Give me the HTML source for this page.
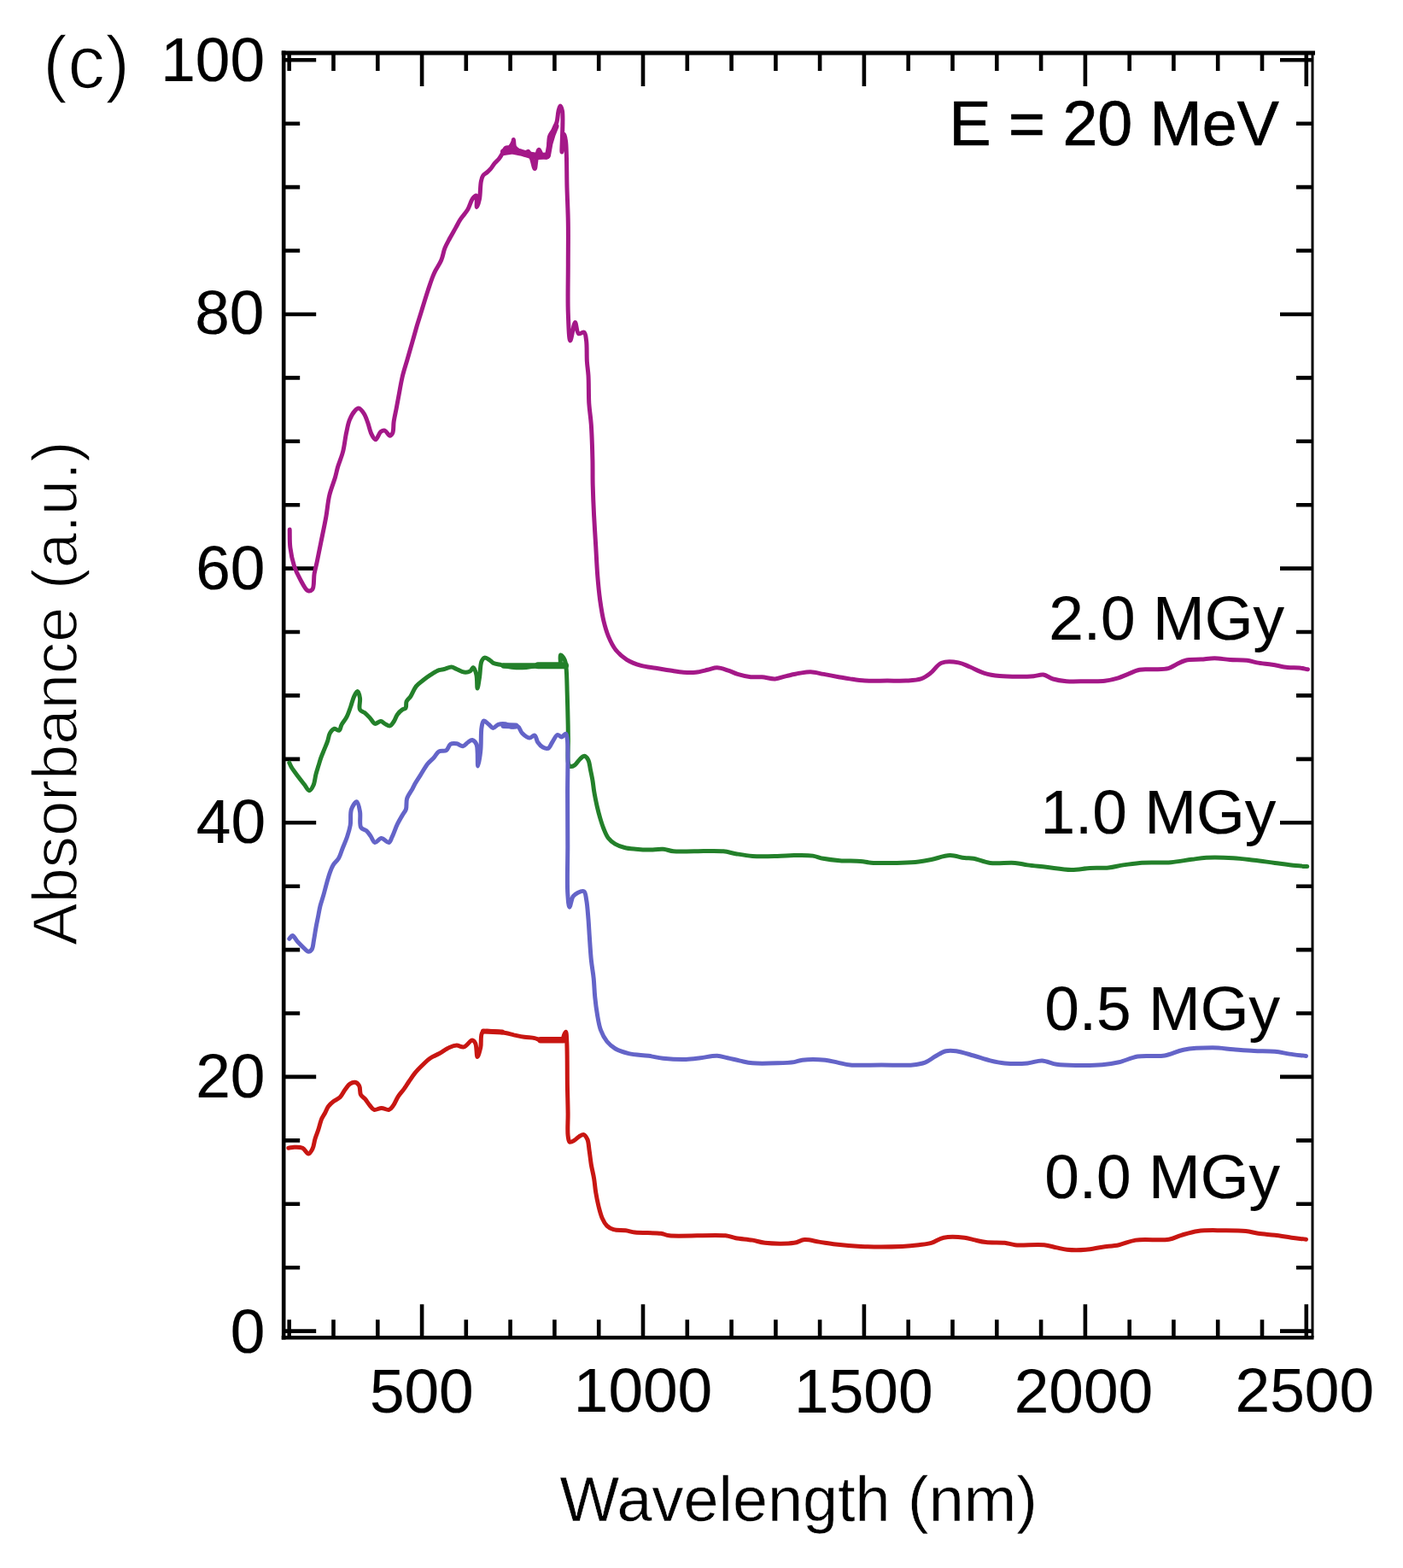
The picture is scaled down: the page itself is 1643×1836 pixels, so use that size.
<!DOCTYPE html>
<html><head><meta charset="utf-8"><style>html,body{margin:0;padding:0;background:#fff;overflow:hidden;}svg{display:block;}</style></head>
<body>
<svg width="1643" height="1836" viewBox="0 0 1643 1836">
<rect width="1643" height="1836" fill="#fff"/>
<line x1="332.2" y1="59.5" x2="332.2" y2="1568.4" stroke="#000" stroke-width="4.6"/>
<line x1="329.7" y1="62.0" x2="1540.0" y2="62.0" stroke="#000" stroke-width="5"/>
<line x1="329.7" y1="1566.2" x2="1538.5" y2="1566.2" stroke="#000" stroke-width="4.4"/>
<line x1="1537.0" y1="62.0" x2="1537.0" y2="1566.2" stroke="#000" stroke-width="3"/>
<path d="M338.7 1566.2V1545.2M338.7 62.0V83.0M390.5 1566.2V1545.2M390.5 62.0V83.0M442.3 1566.2V1545.2M442.3 62.0V83.0M494.1 1566.2V1527.2M494.1 62.0V101.0M545.8 1566.2V1545.2M545.8 62.0V83.0M597.6 1566.2V1545.2M597.6 62.0V83.0M649.4 1566.2V1545.2M649.4 62.0V83.0M701.2 1566.2V1545.2M701.2 62.0V83.0M753.0 1566.2V1527.2M753.0 62.0V101.0M804.8 1566.2V1545.2M804.8 62.0V83.0M856.6 1566.2V1545.2M856.6 62.0V83.0M908.4 1566.2V1545.2M908.4 62.0V83.0M960.1 1566.2V1545.2M960.1 62.0V83.0M1011.9 1566.2V1527.2M1011.9 62.0V101.0M1063.7 1566.2V1545.2M1063.7 62.0V83.0M1115.5 1566.2V1545.2M1115.5 62.0V83.0M1167.3 1566.2V1545.2M1167.3 62.0V83.0M1219.1 1566.2V1545.2M1219.1 62.0V83.0M1270.9 1566.2V1527.2M1270.9 62.0V101.0M1322.7 1566.2V1545.2M1322.7 62.0V83.0M1374.4 1566.2V1545.2M1374.4 62.0V83.0M1426.2 1566.2V1545.2M1426.2 62.0V83.0M1478.0 1566.2V1545.2M1478.0 62.0V83.0M1529.8 1566.2V1527.2M1529.8 62.0V101.0M332.2 1558.6H370.2M1537.0 1558.6H1499.0M332.2 1484.2H351.2M1537.0 1484.2H1518.0M332.2 1409.8H351.2M1537.0 1409.8H1518.0M332.2 1335.4H351.2M1537.0 1335.4H1518.0M332.2 1260.9H370.2M1537.0 1260.9H1499.0M332.2 1186.5H351.2M1537.0 1186.5H1518.0M332.2 1112.1H351.2M1537.0 1112.1H1518.0M332.2 1037.7H351.2M1537.0 1037.7H1518.0M332.2 963.3H370.2M1537.0 963.3H1499.0M332.2 888.9H351.2M1537.0 888.9H1518.0M332.2 814.4H351.2M1537.0 814.4H1518.0M332.2 740.0H351.2M1537.0 740.0H1518.0M332.2 665.6H370.2M1537.0 665.6H1499.0M332.2 591.2H351.2M1537.0 591.2H1518.0M332.2 516.8H351.2M1537.0 516.8H1518.0M332.2 442.4H351.2M1537.0 442.4H1518.0M332.2 368.0H370.2M1537.0 368.0H1499.0M332.2 293.5H351.2M1537.0 293.5H1518.0M332.2 219.1H351.2M1537.0 219.1H1518.0M332.2 144.7H351.2M1537.0 144.7H1518.0M332.2 70.3H370.2M1537.0 70.3H1499.0" stroke="#000" stroke-width="4.6" fill="none"/>
<path d="M590.0 178.0 L600.0 176.5 L610.0 178.5 L620.0 181.5 L630.0 183.0 L640.0 182.5" stroke="#a41888" stroke-width="8" fill="none" stroke-linejoin="round" stroke-linecap="round"/>
<path d="M641.5 182.0 L644.0 168.0 L647.0 158.0 L651.0 148.0" stroke="#a41888" stroke-width="7" fill="none" stroke-linejoin="round" stroke-linecap="round"/>
<path d="M590.0 779.4 L630.0 779.4" stroke="#23802a" stroke-width="6.5" fill="none" stroke-linejoin="round" stroke-linecap="round"/>
<path d="M630.0 779.2 L662.0 779.2" stroke="#23802a" stroke-width="8" fill="none" stroke-linejoin="round" stroke-linecap="round"/>
<path d="M590.0 849.5 L604.0 850.0" stroke="#6464c8" stroke-width="7" fill="none" stroke-linejoin="round" stroke-linecap="round"/>
<path d="M633.0 1217.8 L660.0 1217.8" stroke="#c81612" stroke-width="7.5" fill="none" stroke-linejoin="round" stroke-linecap="round"/>
<path d="M566.0 1207.6 L588.0 1208.4" stroke="#c81612" stroke-width="6" fill="none" stroke-linejoin="round" stroke-linecap="round"/>
<path d="M339.2 620.0C339.4 627.1 339.0 634.2 339.9 641.3C340.8 648.5 342.4 656.3 344.5 662.7C346.4 668.3 348.7 673.1 351.4 678.0C354.1 682.8 357.5 690.6 360.5 691.7C362.3 692.4 364.5 691.7 365.8 690.2C368.2 687.4 367.1 677.5 368.1 671.8C369.0 666.9 370.1 663.3 371.2 658.1C372.6 651.4 374.2 643.4 375.8 635.2C377.7 625.8 380.2 614.3 381.9 604.7C383.4 596.1 383.9 588.1 385.7 580.3C387.4 572.9 390.7 565.1 392.5 559.0C393.8 554.4 394.3 551.3 395.6 546.8C397.2 541.3 400.1 534.9 401.7 528.5C403.4 521.7 404.1 513.6 405.5 507.1C406.7 501.6 407.5 496.4 409.3 491.9C410.9 487.9 413.2 483.6 415.4 481.2C416.9 479.6 418.4 477.9 420.0 478.1C422.0 478.3 424.4 481.7 426.1 484.2C428.1 487.1 429.3 491.1 430.7 494.9C432.3 499.2 433.3 505.1 435.2 508.6C436.5 511.2 438.2 514.7 439.8 514.7C441.7 514.6 443.7 507.3 445.9 505.6C447.4 504.5 449.0 503.7 450.5 504.1C452.5 504.6 454.9 510.2 456.6 510.2C457.8 510.2 458.9 508.7 459.7 507.1C461.1 504.3 460.5 498.1 461.2 493.4C462.0 488.4 463.2 483.3 464.2 478.1C465.2 472.7 466.2 467.3 467.3 461.4C468.5 454.9 469.7 447.6 471.3 440.8C472.9 434.1 475.1 427.6 477.0 421.0C478.9 414.4 480.8 407.7 482.7 401.1C484.6 394.5 486.4 387.8 488.3 381.3C490.2 375.0 492.0 369.4 494.0 362.9C496.2 355.7 498.7 347.5 501.1 340.2C503.4 333.4 505.5 326.5 508.2 320.4C510.7 314.8 514.5 310.0 516.7 304.8C518.7 300.1 519.2 295.1 520.9 290.7C522.5 286.6 524.5 283.2 526.6 279.3C528.8 275.2 531.5 270.6 533.7 266.6C535.7 263.1 537.1 260.0 539.3 256.7C541.7 253.0 545.4 249.3 547.8 245.3C550.1 241.3 551.4 235.4 553.5 232.6C554.8 230.8 556.8 228.6 557.7 229.0C559.1 229.6 557.6 242.4 558.4 242.5C559.0 242.6 560.7 236.8 561.5 233.0C562.6 227.5 562.3 217.2 563.4 212.2C564.0 209.3 564.5 207.2 565.8 205.4C567.0 203.7 569.2 202.8 570.7 201.5C572.1 200.2 573.3 199.1 574.6 197.6C576.2 195.7 577.8 192.8 579.5 190.8C581.0 189.0 582.8 187.9 584.3 186.0C586.1 183.8 587.8 180.5 589.2 178.2C590.3 176.4 590.7 174.3 592.1 173.3C593.4 172.4 595.6 173.3 597.0 172.3C598.7 171.1 600.2 167.7 600.9 166.0C601.3 165.0 601.2 163.5 601.4 163.5C601.8 163.5 601.5 170.0 602.8 172.3C604.0 174.5 606.7 175.7 608.7 177.2C610.6 178.6 612.8 181.3 614.5 181.1C616.0 181.0 617.2 177.0 618.4 177.2C619.9 177.4 621.1 182.0 622.3 185.0C623.8 188.6 625.2 197.7 626.2 197.6C627.1 197.5 627.4 189.8 628.2 186.0C629.0 182.3 629.8 175.4 631.1 175.2C632.2 175.1 633.2 180.6 635.0 182.1C636.6 183.4 639.4 184.9 640.8 184.0C643.7 182.2 641.7 165.7 643.5 160.0C644.6 156.5 646.6 154.8 648.0 152.0C649.4 149.1 651.0 146.3 652.0 143.0C653.1 139.1 653.2 133.5 654.0 130.0C654.6 127.6 655.3 124.0 656.0 124.0C656.8 124.0 657.9 127.0 658.5 130.0C660.1 138.3 657.3 178.0 658.0 178.0C658.5 178.0 659.5 157.1 660.5 157.0C661.1 157.0 662.0 161.1 662.5 165.0C663.9 175.1 663.5 203.1 664.0 220.0C664.4 234.4 665.1 246.0 665.3 260.0C665.6 275.5 665.3 292.0 665.3 309.0C665.3 327.3 664.7 349.8 665.3 366.2C665.8 378.6 666.2 398.7 667.8 398.9C669.2 399.0 671.7 377.6 673.5 377.6C674.9 377.6 675.2 389.4 677.6 390.7C679.3 391.6 682.6 388.2 684.1 389.1C685.9 390.2 686.0 394.9 686.6 398.9C687.5 405.2 686.9 416.1 687.4 423.4C687.8 429.4 688.6 433.3 689.0 439.7C689.6 448.7 689.2 462.3 689.8 472.4C690.4 481.2 691.6 487.8 692.3 497.0C693.1 508.9 693.6 525.2 693.9 537.8C694.2 548.7 693.9 557.8 694.2 568.3C694.5 579.7 695.0 591.9 695.6 603.7C696.2 615.5 697.0 627.4 697.7 639.2C698.4 651.0 698.9 663.5 699.8 674.6C700.6 684.6 701.5 693.9 702.7 702.9C703.9 711.3 705.1 719.6 706.9 727.0C708.5 733.6 710.2 739.6 712.6 745.4C714.9 750.9 717.5 756.5 721.1 761.0C724.6 765.4 729.0 769.3 733.8 772.3C738.8 775.5 745.0 777.7 750.8 779.4C756.4 781.0 762.1 781.3 767.8 782.2C773.5 783.1 779.3 784.2 784.8 785.0C790.1 785.8 795.3 786.8 800.4 787.2C805.2 787.5 809.9 787.7 814.6 787.2C819.3 786.7 824.3 785.3 828.7 784.3C832.6 783.5 835.9 781.8 839.7 781.8C843.9 781.8 848.8 783.8 852.9 785.1C856.7 786.3 859.8 788.2 863.8 789.4C868.4 790.8 874.2 792.2 879.2 792.7C883.7 793.2 887.8 792.4 892.3 792.7C897.2 793.1 902.7 795.1 907.6 794.9C912.2 794.7 916.2 792.7 920.8 791.6C925.7 790.5 931.2 789.1 936.1 788.3C940.6 787.6 944.7 786.7 949.3 786.8C954.2 786.9 959.3 788.5 964.6 789.4C970.2 790.4 976.7 791.7 982.1 792.7C986.8 793.5 990.6 794.2 995.3 794.9C1000.7 795.7 1006.4 796.7 1012.8 797.1C1020.7 797.6 1030.7 797.1 1039.1 797.1C1046.7 797.1 1054.1 797.5 1061.0 797.1C1067.2 796.7 1073.5 796.6 1078.5 794.9C1082.8 793.4 1085.8 791.1 1089.5 788.3C1093.8 785.1 1097.3 778.4 1102.6 776.3C1108.2 774.1 1116.6 774.9 1122.4 775.9C1127.3 776.7 1130.8 778.8 1135.5 780.7C1140.9 782.9 1147.1 786.5 1153.0 788.3C1158.8 790.1 1164.4 790.9 1170.6 791.6C1177.5 792.3 1185.6 792.3 1192.5 792.3C1198.8 792.3 1205.2 792.2 1210.5 791.7C1214.7 791.3 1218.1 789.6 1221.8 790.1C1225.6 790.6 1228.9 793.8 1233.1 795.0C1237.8 796.4 1243.1 797.2 1248.8 797.7C1255.6 798.3 1263.9 797.8 1271.4 797.7C1278.9 797.6 1287.1 798.1 1293.9 797.3C1299.6 796.6 1304.9 795.3 1309.6 793.9C1313.7 792.6 1317.0 790.9 1320.9 789.4C1325.2 787.7 1329.6 785.1 1334.4 784.2C1339.4 783.2 1344.8 784.0 1350.2 783.8C1356.0 783.5 1363.3 784.0 1368.2 782.7C1371.8 781.7 1374.0 779.7 1377.2 778.2C1380.7 776.5 1384.2 774.2 1388.5 773.2C1393.7 771.9 1400.7 772.5 1406.5 772.1C1411.9 771.7 1416.9 770.7 1422.3 770.7C1428.1 770.7 1434.1 772.1 1440.3 772.5C1446.8 772.9 1454.8 772.4 1460.5 773.2C1464.8 773.8 1467.6 775.1 1471.8 775.9C1477.1 776.9 1483.8 777.3 1489.8 778.2C1495.8 779.1 1502.2 780.9 1507.8 781.5C1512.6 782.0 1517.2 781.6 1521.4 782.0C1525.0 782.4 1528.1 783.2 1531.5 783.8" stroke="#a41888" stroke-width="5" fill="none" stroke-linejoin="round" stroke-linecap="round"/>
<path d="M338.8 893.2C339.8 895.2 340.4 896.9 341.7 899.1C343.6 902.2 347.0 906.4 349.5 909.8C351.8 912.9 354.1 915.7 356.3 918.5C358.3 921.0 360.3 925.8 362.1 925.8C363.8 925.8 365.8 922.1 367.0 919.5C368.6 916.1 368.9 910.7 369.9 906.8C370.8 903.3 371.8 900.3 372.8 897.1C373.8 893.9 374.7 890.6 375.8 887.4C377.0 884.1 378.4 880.9 379.7 877.6C381.0 874.4 382.5 871.2 383.6 867.9C384.7 864.7 385.0 860.7 386.5 858.2C387.7 856.1 389.5 853.8 391.3 853.3C393.0 852.9 395.8 855.9 397.2 855.2C398.8 854.5 398.8 850.7 400.1 848.4C401.6 845.6 404.2 843.0 405.9 839.7C407.8 836.0 409.3 831.2 410.8 827.0C412.2 823.0 413.2 818.4 414.7 815.3C415.9 812.9 417.5 809.4 418.6 809.5C419.8 809.6 421.0 814.3 421.5 817.3C422.2 821.2 419.9 828.0 421.5 830.9C422.6 833.0 425.5 833.3 427.4 834.8C429.4 836.5 431.3 838.6 433.2 840.6C435.2 842.7 436.9 846.9 439.1 847.4C441.1 847.9 443.9 844.4 445.9 844.5C447.7 844.6 449.0 846.5 450.7 847.4C452.5 848.3 454.9 850.3 456.6 849.9C458.5 849.5 460.0 846.6 461.4 844.5C462.9 842.2 463.6 839.0 465.3 836.7C466.9 834.5 469.3 832.2 471.2 830.9C472.6 829.9 474.2 830.2 475.1 829.0C476.2 827.4 475.1 823.5 476.1 821.2C477.1 818.9 479.3 817.7 480.9 815.3C483.0 812.1 484.7 806.9 487.3 803.6C489.7 800.6 492.9 798.6 495.8 796.3C498.6 794.1 501.3 792.1 504.3 790.2C507.4 788.2 511.1 785.8 514.1 784.7C516.3 783.9 518.0 784.0 520.2 783.5C522.8 782.9 526.1 780.9 528.7 781.0C530.9 781.1 532.6 782.6 534.8 783.5C537.4 784.6 540.5 786.8 543.3 787.1C545.8 787.4 548.7 787.0 550.6 785.9C552.3 785.0 553.2 781.4 554.3 781.6C555.7 781.8 557.1 786.8 557.9 790.2C559.0 794.6 558.4 806.0 559.1 806.0C559.7 806.0 560.8 797.4 561.6 792.6C562.5 787.0 562.3 778.1 564.0 774.3C564.9 772.2 566.1 770.4 567.6 770.1C569.3 769.8 572.0 772.0 573.7 773.1C575.2 774.0 575.8 775.4 577.4 776.2C579.8 777.4 583.5 777.8 587.1 778.6C591.5 779.6 596.8 780.9 601.7 781.4C606.5 781.9 611.3 781.7 616.3 781.4C621.5 781.0 627.3 779.4 632.2 779.2C636.5 779.0 640.4 779.7 644.3 779.8C648.1 779.9 653.2 781.7 655.3 779.8C657.6 777.7 655.1 767.4 656.5 767.0C657.6 766.7 660.3 770.7 661.4 773.1C662.5 775.6 662.6 777.9 663.0 781.6C663.8 788.4 663.9 800.4 664.2 810.9C664.6 823.0 665.0 839.8 665.2 850.0C665.3 856.5 665.3 860.0 665.4 866.1C665.5 874.1 664.2 889.2 665.6 894.0C666.2 895.8 666.8 897.1 667.9 897.5C669.2 897.9 671.4 896.9 673.1 895.8C675.3 894.4 677.1 890.6 679.2 888.8C680.9 887.3 682.8 885.1 684.4 885.3C686.0 885.5 687.7 887.7 688.8 889.7C690.3 892.4 690.6 897.1 691.4 901.0C692.3 905.2 693.3 909.7 694.0 914.1C694.7 918.4 695.0 922.5 695.8 927.1C696.7 932.5 698.1 939.2 699.3 944.6C700.4 949.3 701.4 953.3 702.7 957.6C704.0 962.0 705.4 966.6 707.1 970.7C708.6 974.4 710.0 978.2 712.3 981.2C714.5 984.0 717.1 986.3 720.2 988.1C723.5 990.1 727.5 991.5 731.5 992.5C735.6 993.6 740.0 993.8 744.6 994.2C749.5 994.7 754.8 995.1 760.0 995.1C765.4 995.1 771.4 993.9 776.5 994.3C780.9 994.6 783.9 996.3 788.7 996.8C795.4 997.5 804.2 996.8 813.0 996.8C823.4 996.8 838.1 995.9 847.1 996.8C853.0 997.4 856.5 998.8 861.7 999.7C867.7 1000.7 874.0 1001.9 881.2 1002.4C889.9 1003.0 901.6 1002.6 910.4 1002.4C917.6 1002.3 923.2 1001.7 929.9 1001.6C937.0 1001.5 945.6 1001.2 951.8 1002.1C956.5 1002.8 959.4 1004.4 964.0 1005.3C969.7 1006.4 976.6 1007.2 983.5 1007.7C991.1 1008.3 1001.1 1007.9 1007.8 1008.5C1012.6 1008.9 1014.8 1009.8 1020.0 1010.2C1028.9 1010.8 1046.2 1010.5 1056.5 1010.2C1064.0 1010.0 1070.0 1009.7 1076.0 1009.0C1081.2 1008.4 1085.3 1007.6 1090.6 1006.5C1097.2 1005.2 1105.6 1001.8 1112.5 1001.6C1118.5 1001.5 1124.5 1004.0 1129.5 1004.6C1133.4 1005.1 1136.0 1004.6 1140.0 1005.3C1145.5 1006.2 1152.3 1009.5 1159.5 1010.4C1168.2 1011.5 1180.7 1009.7 1188.7 1010.4C1194.4 1010.9 1197.9 1012.1 1203.3 1012.9C1209.9 1013.8 1217.4 1014.4 1225.2 1015.3C1234.2 1016.3 1245.4 1018.4 1254.4 1018.5C1262.2 1018.6 1269.0 1016.9 1276.3 1016.5C1283.6 1016.1 1291.4 1016.7 1298.2 1016.0C1304.3 1015.4 1309.4 1013.8 1315.3 1012.9C1321.6 1011.9 1327.3 1011.0 1334.8 1010.4C1345.1 1009.6 1360.4 1010.6 1371.3 1009.7C1380.2 1009.0 1388.2 1007.2 1395.6 1006.3C1401.8 1005.5 1406.1 1004.6 1412.7 1004.3C1421.6 1003.9 1434.5 1004.2 1444.3 1004.8C1453.0 1005.3 1460.6 1006.4 1468.7 1007.3C1476.8 1008.2 1484.9 1009.4 1493.0 1010.4C1501.1 1011.5 1510.5 1012.9 1517.4 1013.6C1522.5 1014.1 1526.3 1014.3 1530.8 1014.6" stroke="#23802a" stroke-width="5" fill="none" stroke-linejoin="round" stroke-linecap="round"/>
<path d="M338.8 1099.2C340.0 1098.0 341.1 1095.4 342.5 1095.5C344.4 1095.6 346.6 1100.7 348.8 1103.0C350.9 1105.2 353.0 1107.4 355.1 1109.3C357.1 1111.1 359.5 1114.2 361.3 1114.3C362.7 1114.4 364.1 1113.2 365.1 1111.8C366.7 1109.5 366.8 1104.5 367.6 1100.5C368.5 1095.9 369.2 1090.3 370.1 1085.5C370.9 1081.1 371.8 1077.1 372.6 1072.9C373.4 1068.7 374.1 1064.5 375.1 1060.4C376.2 1056.2 377.7 1052.2 378.9 1047.9C380.2 1043.4 381.3 1038.6 382.6 1034.1C383.8 1029.8 385.0 1025.4 386.4 1021.6C387.6 1018.4 388.5 1015.5 390.2 1012.8C391.9 1010.1 394.6 1008.3 396.4 1005.3C398.5 1001.8 399.7 996.9 401.4 992.7C403.1 988.5 404.9 984.5 406.4 980.2C407.9 975.8 409.3 971.4 410.2 966.4C411.2 960.7 409.8 952.5 411.5 947.6C412.8 943.9 416.1 938.6 417.7 938.8C419.4 939.1 420.7 945.8 421.5 950.1C422.6 955.5 420.5 965.2 422.7 968.9C424.1 971.2 427.1 971.1 429.0 972.7C430.9 974.4 432.4 976.7 434.0 978.9C435.7 981.3 436.9 986.1 439.0 986.5C441.1 986.9 443.9 981.6 446.5 981.5C449.3 981.4 453.1 987.1 455.3 986.5C457.1 986.0 457.8 982.8 459.1 980.2C461.1 976.3 463.1 969.8 465.3 965.2C467.3 961.1 469.7 957.1 471.6 953.9C473.0 951.5 474.5 950.2 475.4 947.6C476.5 944.2 475.4 939.0 476.6 935.1C477.8 931.1 481.2 927.0 482.9 923.8C484.2 921.4 484.8 919.9 486.1 917.6C487.8 914.7 490.0 911.4 492.2 907.9C494.8 903.8 497.8 898.2 500.7 894.5C503.1 891.5 505.7 889.7 508.0 887.2C510.2 884.8 511.6 881.3 514.1 879.9C516.5 878.6 520.4 880.1 522.6 878.7C524.9 877.3 525.3 872.7 527.5 871.4C529.5 870.2 532.4 870.4 534.8 870.8C537.3 871.2 539.9 874.1 542.1 873.8C544.3 873.5 546.2 870.3 548.2 869.0C549.8 867.9 551.5 866.3 553.0 866.5C554.7 866.8 556.7 868.8 557.9 871.4C560.2 876.4 558.8 897.0 559.7 897.0C560.5 897.0 562.1 885.4 562.8 878.7C563.7 870.6 562.9 858.1 564.0 851.9C564.6 848.4 564.9 844.5 566.4 844.0C567.8 843.5 570.6 846.8 572.5 848.3C574.3 849.7 575.6 852.4 577.4 852.5C579.3 852.6 581.2 849.1 583.5 848.3C586.0 847.4 589.3 847.2 592.0 847.7C594.6 848.2 596.8 850.8 599.3 851.3C601.7 851.8 604.6 849.7 606.6 850.7C608.8 851.8 609.3 856.4 611.5 858.6C613.8 860.9 617.4 864.0 620.0 864.1C622.2 864.2 624.5 860.4 626.1 861.0C627.9 861.6 628.1 866.7 629.7 869.0C631.3 871.3 633.6 873.8 635.8 875.0C637.7 876.0 640.2 877.0 641.9 876.3C644.0 875.5 645.1 871.5 646.8 869.0C648.7 866.2 650.8 860.9 652.9 860.4C654.4 860.0 656.1 863.0 657.7 862.9C659.4 862.8 661.5 858.8 662.6 859.2C663.8 859.6 663.9 862.8 664.4 866.5C665.7 877.2 664.5 909.1 664.6 930.0C664.7 950.3 664.8 970.3 664.8 990.0C664.8 1009.2 663.9 1033.7 664.8 1046.7C665.3 1053.5 665.8 1062.1 666.9 1062.2C668.0 1062.3 669.1 1052.4 671.2 1049.5C672.7 1047.4 674.7 1046.2 676.8 1045.2C678.9 1044.2 682.3 1042.8 683.9 1043.8C685.9 1045.0 685.9 1049.7 686.7 1053.7C687.8 1059.4 688.3 1067.9 688.9 1075.0C689.5 1082.1 689.8 1088.6 690.3 1096.2C690.9 1105.0 691.5 1115.8 692.4 1124.6C693.2 1132.2 694.5 1138.7 695.2 1145.8C695.9 1152.9 696.0 1160.0 696.7 1167.1C697.4 1174.2 698.3 1181.5 699.5 1188.3C700.6 1194.7 701.6 1201.3 703.7 1206.7C705.5 1211.5 707.9 1215.9 710.8 1219.5C713.6 1222.9 716.8 1225.7 720.7 1228.0C725.1 1230.6 730.5 1232.2 736.3 1233.6C743.2 1235.2 752.4 1235.3 759.5 1236.3C765.6 1237.2 770.2 1238.5 776.5 1239.2C784.4 1240.0 795.4 1240.6 803.3 1240.4C809.6 1240.2 814.4 1239.4 820.3 1238.7C826.6 1238.0 834.1 1236.1 839.8 1236.3C844.4 1236.5 847.8 1237.8 852.0 1238.7C856.7 1239.7 861.7 1241.1 866.6 1242.1C871.5 1243.1 875.5 1244.3 881.2 1244.8C889.2 1245.5 901.6 1245.1 910.4 1244.8C917.6 1244.6 924.6 1244.4 929.9 1243.6C933.7 1243.0 935.5 1241.7 939.6 1241.2C946.3 1240.4 958.8 1240.5 966.4 1241.2C972.0 1241.8 976.1 1243.1 981.0 1244.1C985.9 1245.1 989.6 1246.4 995.6 1247.0C1005.0 1247.9 1020.0 1247.0 1032.2 1247.0C1044.4 1247.0 1059.3 1247.9 1068.7 1247.0C1074.7 1246.4 1078.8 1245.8 1083.3 1244.1C1087.7 1242.4 1091.4 1239.1 1095.5 1236.8C1099.5 1234.6 1103.4 1231.7 1107.6 1230.7C1111.6 1229.8 1115.3 1230.1 1119.8 1230.7C1125.7 1231.5 1133.3 1234.1 1140.0 1236.0C1146.6 1237.9 1153.2 1240.4 1159.5 1241.9C1165.3 1243.3 1170.2 1244.4 1176.5 1245.0C1184.4 1245.7 1195.4 1245.7 1203.3 1245.0C1209.6 1244.4 1214.6 1241.7 1220.3 1241.9C1226.0 1242.1 1231.1 1245.4 1237.4 1246.3C1244.7 1247.4 1253.2 1247.4 1261.7 1247.5C1271.0 1247.6 1282.2 1247.5 1290.9 1246.7C1298.1 1246.1 1303.8 1245.3 1310.4 1243.8C1317.5 1242.2 1324.2 1238.4 1332.3 1237.0C1341.8 1235.4 1354.5 1237.6 1364.0 1236.0C1372.1 1234.6 1377.7 1230.7 1385.9 1229.2C1395.9 1227.3 1409.6 1226.8 1420.0 1226.8C1428.8 1226.8 1436.2 1228.1 1444.3 1228.7C1452.4 1229.3 1460.6 1230.0 1468.7 1230.4C1476.8 1230.8 1485.6 1230.5 1493.0 1231.2C1499.2 1231.8 1504.1 1233.2 1510.0 1234.1C1516.3 1235.0 1523.0 1235.7 1529.5 1236.5" stroke="#6464c8" stroke-width="5" fill="none" stroke-linejoin="round" stroke-linecap="round"/>
<path d="M337.8 1344.2C340.1 1343.9 342.1 1343.3 344.6 1343.2C347.5 1343.1 351.5 1342.9 354.3 1344.2C357.1 1345.5 359.2 1351.1 361.2 1351.0C363.0 1350.9 364.8 1347.6 366.0 1345.2C367.6 1342.1 367.8 1337.3 369.0 1333.5C370.1 1329.8 371.6 1326.5 372.8 1322.8C374.1 1318.8 375.2 1313.6 376.7 1310.1C377.9 1307.4 379.3 1305.7 380.6 1303.3C381.9 1300.8 382.8 1297.8 384.5 1295.5C386.1 1293.3 388.2 1291.4 390.4 1289.7C392.7 1287.9 396.0 1287.0 398.2 1284.8C400.6 1282.5 402.0 1278.7 404.0 1276.0C405.9 1273.5 407.6 1270.6 409.8 1269.2C411.6 1268.0 413.9 1267.0 415.7 1267.3C417.5 1267.6 419.5 1269.3 420.6 1271.2C422.1 1273.7 421.1 1279.2 422.5 1281.9C423.6 1284.0 425.8 1284.8 427.4 1286.7C429.3 1288.9 431.3 1292.3 433.2 1294.5C434.8 1296.4 436.0 1298.8 438.1 1299.4C440.4 1300.1 443.9 1297.4 446.8 1297.4C449.7 1297.4 453.2 1300.1 455.6 1299.4C457.7 1298.8 458.9 1296.6 460.5 1294.5C462.6 1291.7 464.1 1287.1 466.3 1283.8C468.4 1280.7 471.0 1278.0 473.1 1275.1C475.2 1272.2 476.9 1269.3 479.0 1266.3C481.2 1263.1 483.3 1259.7 485.8 1256.6C488.4 1253.3 491.5 1250.2 494.6 1247.2C497.7 1244.2 500.9 1241.0 504.3 1238.7C507.4 1236.6 510.7 1235.7 514.1 1233.8C518.0 1231.7 522.5 1228.1 526.3 1226.5C529.3 1225.2 532.0 1224.2 534.8 1224.1C537.6 1224.0 540.5 1226.6 543.3 1225.9C546.6 1225.1 550.6 1217.9 553.0 1218.0C554.6 1218.1 555.7 1219.7 556.7 1221.6C558.4 1224.9 557.9 1237.4 559.1 1237.5C560.1 1237.6 561.8 1230.7 562.8 1226.5C564.0 1221.2 562.1 1211.2 565.2 1208.3C567.7 1206.0 573.2 1207.5 577.4 1207.7C582.1 1207.9 587.7 1208.7 592.0 1209.5C595.6 1210.2 598.3 1211.1 601.7 1211.9C605.5 1212.7 609.8 1213.7 613.9 1214.3C618.0 1214.9 622.6 1214.9 626.1 1215.6C628.8 1216.2 630.1 1217.3 633.0 1217.8C637.4 1218.5 645.7 1218.3 650.4 1218.2C653.6 1218.1 656.8 1218.8 658.5 1217.5C659.9 1216.4 659.8 1213.6 660.5 1212.0C661.1 1210.6 662.1 1208.2 662.6 1208.3C663.5 1208.5 663.5 1215.0 663.8 1220.4C664.4 1231.3 664.2 1255.1 664.4 1270.0C664.6 1282.3 665.0 1293.1 665.1 1303.6C665.2 1312.8 664.3 1323.6 665.1 1329.7C665.6 1333.0 665.7 1336.6 667.2 1337.3C668.5 1337.9 671.0 1336.2 672.7 1335.2C674.6 1334.1 676.2 1331.9 678.1 1330.8C679.9 1329.8 682.0 1328.2 683.6 1328.6C685.3 1329.1 686.8 1331.7 687.9 1334.1C689.3 1337.4 689.4 1342.5 690.1 1347.1C690.9 1352.2 691.4 1358.1 692.3 1363.5C693.2 1369.0 694.7 1374.3 695.6 1379.8C696.5 1385.2 696.8 1390.8 697.7 1396.2C698.6 1401.7 699.7 1407.3 701.0 1412.5C702.3 1417.4 703.5 1422.6 705.4 1426.7C706.9 1430.1 708.5 1433.2 710.8 1435.4C712.9 1437.4 715.4 1438.8 718.4 1439.7C722.3 1440.9 728.2 1440.2 732.6 1440.8C736.5 1441.3 738.9 1442.4 743.5 1443.0C751.1 1443.9 766.8 1443.2 774.1 1444.3C778.3 1444.9 779.1 1446.2 783.8 1446.8C795.9 1448.3 836.5 1445.3 849.6 1446.8C855.3 1447.5 857.2 1448.9 861.7 1449.7C867.4 1450.7 875.2 1451.1 881.2 1452.1C886.4 1453.0 889.9 1454.7 895.8 1455.3C904.8 1456.3 921.5 1456.6 929.9 1455.3C935.1 1454.5 937.7 1451.9 942.1 1451.6C947.3 1451.2 953.2 1453.2 959.1 1454.1C965.4 1455.0 971.4 1456.2 978.6 1457.0C987.3 1458.0 996.8 1458.9 1007.8 1459.4C1022.0 1460.0 1043.9 1459.9 1056.5 1459.4C1064.5 1459.1 1070.0 1458.5 1076.0 1457.7C1081.2 1457.0 1085.8 1456.7 1090.6 1455.3C1095.6 1453.9 1099.6 1450.3 1105.2 1449.2C1112.2 1447.8 1123.1 1448.5 1129.5 1449.2C1133.8 1449.7 1136.2 1450.8 1140.0 1451.6C1144.5 1452.6 1149.2 1454.0 1154.6 1454.6C1161.1 1455.4 1170.3 1454.6 1176.5 1455.3C1181.2 1455.8 1183.6 1457.2 1188.7 1457.7C1197.2 1458.5 1213.8 1456.7 1222.8 1457.7C1228.7 1458.3 1232.7 1459.9 1237.4 1460.9C1241.6 1461.8 1244.9 1462.8 1249.6 1463.3C1255.8 1463.9 1264.4 1463.9 1271.5 1463.3C1278.2 1462.8 1284.4 1461.1 1290.9 1460.2C1297.4 1459.3 1304.0 1459.0 1310.4 1457.7C1317.0 1456.3 1322.2 1453.3 1329.9 1452.1C1340.6 1450.5 1359.1 1452.9 1368.9 1451.2C1375.0 1450.1 1378.3 1447.8 1383.5 1446.3C1389.5 1444.5 1395.7 1442.4 1402.9 1441.4C1411.6 1440.2 1422.6 1440.7 1432.1 1440.7C1441.2 1440.7 1451.3 1440.6 1458.9 1441.4C1464.5 1442.0 1468.3 1443.5 1473.5 1444.3C1479.5 1445.2 1486.5 1445.5 1493.0 1446.3C1499.5 1447.1 1506.2 1448.4 1512.5 1449.2C1518.4 1450.0 1523.8 1450.5 1529.5 1451.2" stroke="#c81612" stroke-width="5" fill="none" stroke-linejoin="round" stroke-linecap="round"/>
<g font-family="'Liberation Sans', Arial, Helvetica, sans-serif" fill="#000">
<text x="310.4" y="1583.9" font-size="73" text-anchor="end" stroke="#000" stroke-width="0.2">0</text>
<text x="310.4" y="1285.1" font-size="73" text-anchor="end" stroke="#000" stroke-width="0.2">20</text>
<text x="311.0" y="987.0" font-size="73" text-anchor="end" stroke="#000" stroke-width="0.2">40</text>
<text x="310.4" y="689.6" font-size="73" text-anchor="end" stroke="#000" stroke-width="0.2">60</text>
<text x="309.4" y="390.8" font-size="73" text-anchor="end" stroke="#000" stroke-width="0.2">80</text>
<text x="310.0" y="94.7" font-size="73" text-anchor="end" stroke="#000" stroke-width="0.2">100</text>
<text x="493.8" y="1653.8" font-size="73" text-anchor="middle" stroke="#000" stroke-width="0.2">500</text>
<text x="753.0" y="1653.1" font-size="73" text-anchor="middle" stroke="#000" stroke-width="0.2">1000</text>
<text x="1011.3" y="1654.0" font-size="73" text-anchor="middle" stroke="#000" stroke-width="0.2">1500</text>
<text x="1268.9" y="1653.5" font-size="73" text-anchor="middle" stroke="#000" stroke-width="0.2">2000</text>
<text x="1527.8" y="1653.4" font-size="73" text-anchor="middle" stroke="#000" stroke-width="0.2">2500</text>
<text x="50.0" y="102.5" font-size="87.5" text-anchor="start" stroke="#fff" stroke-width="1.6">(c)</text>
<text x="1111.6" y="169.8" font-size="73.5" text-anchor="start" stroke="#000" stroke-width="0.7">E = 20 MeV</text>
<text x="1228.2" y="749.0" font-size="73" text-anchor="start" stroke="#000" stroke-width="0.2">2.0 MGy</text>
<text x="1218.4" y="976.2" font-size="73" text-anchor="start" stroke="#000" stroke-width="0.2">1.0 MGy</text>
<text x="1223.2" y="1205.8" font-size="73" text-anchor="start" stroke="#000" stroke-width="0.2">0.5 MGy</text>
<text x="1223.2" y="1402.6" font-size="73" text-anchor="start" stroke="#000" stroke-width="0.2">0.0 MGy</text>
<text x="655.6" y="1781.0" font-size="73.8" text-anchor="start" stroke="#fff" stroke-width="0.5">Wavelength (nm)</text>
<text x="0" y="0" font-size="74.3" text-anchor="middle" stroke="#fff" stroke-width="1.4" transform="translate(89.7 811.8) rotate(-90)">Absorbance (a.u.)</text>
</g>
</svg>
</body></html>
